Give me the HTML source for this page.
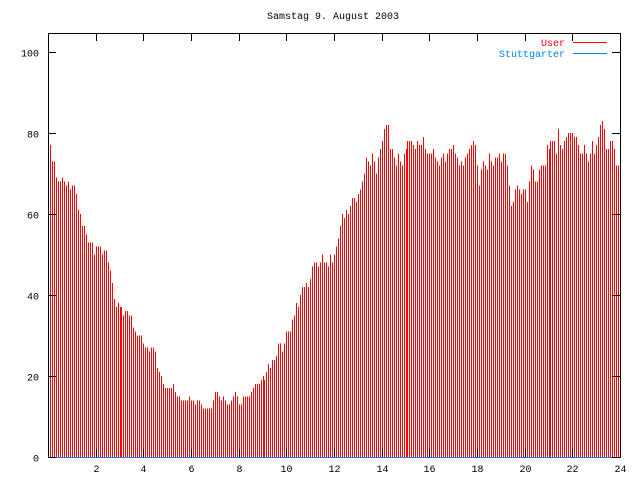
<!DOCTYPE html>
<html><head><meta charset="utf-8"><style>
html,body{margin:0;padding:0;background:#fff;}
svg{display:block;font-family:"Liberation Mono",monospace;font-size:10px;}
</style></head><body>
<svg id="chart" width="640" height="480" viewBox="0 0 640 480" shape-rendering="crispEdges">
<text x="333" y="19" text-anchor="middle" fill="#000">Samstag 9. August 2003</text>
<g id="bars"></g>
<g id="axes"></g>
<g>
<text x="565" y="46" text-anchor="end" fill="#ff0000">User</text>
<line x1="573" y1="42.5" x2="607" y2="42.5" stroke="#ff0000"/>
<text x="565" y="57" text-anchor="end" fill="#0080ff">Stuttgarter</text>
<line x1="573" y1="53.5" x2="607" y2="53.5" stroke="#0080ff"/>
</g>
</svg>
<script>
const userValues = [
77,77,73,73,69,68,68,69,68,67,68,66,67,67,65,61,60,57,57,55,
53,53,53,50,52,52,52,50,51,51,48,46,43,39,37,38,37,37,35,36,
36,35,35,32,31,30,30,30,28,27,27,26,27,27,26,22,21,20,18,17,
17,17,17,18,16,15,15,14,14,14,14,15,14,14,13,14,14,13,12,12,
12,12,12,14,16,16,15,14,15,14,13,
13,14,15,16,15,13,13,15,15,15,15,16,17,18,18,18,19,20,19,21,23,22,24,24,25,28,28,26,28,31,31,31,34,35,38,37,40,42,42,43,42,44,47,48,48,47,48,50,
48,48,47,50,48,
50,52,54,57,60,59,61,60,62,64,64,63,65,66,68,70,74,73,72,75,73,70,74,76,78,81,82,82,76,76,74,72,75,73,72,75,76,78,78,78,77,76,78,
77,77,79,76,75,75,75,76,74,73,72,74,75,73,75,76,76,77,75,74,72,73,72,74,75,76,77,78,77,72,67,71,73,72,71,75,73,72,74,74,75,73,75,75,72,67,62,63,66,67,66,65,66,66,63,
68,72,71,68,68,71,72,72,72,77,76,78,78,78,75,81,77,76,78,79,80,80,80,79,79,77,75,75,77,75,73,75,78,75,77,79,82,83,81,76,76,78,78,76,72,72
];
const pointsPerHour = 12;
const yTicks = [0,20,40,60,80,100];
const xTicks = [2,4,6,8,10,12,14,16,18,20,22,24];

const L=48,R=620,T=33,B=457;
const xMax=24,yMax=(B-T)/4.05;
const xs=h=>L+(h/xMax)*(R-L);
const ys=v=>B-(v/yMax)*(B-T);
const NS='http://www.w3.org/2000/svg';
const bars=document.getElementById('bars');
userValues.forEach((v,i)=>{
  const x=Math.round(xs(i/pointsPerHour))+0.5;
  const ln=document.createElementNS(NS,'line');
  
  
  ln.setAttribute('x1',x);ln.setAttribute('x2',x);
  ln.setAttribute('y1',B);ln.setAttribute('y2',ys(v));
  ln.setAttribute('stroke','#ff0000');
  bars.appendChild(ln);
});
const axes=document.getElementById('axes');
function add(tag,attrs,name,text){
  const e=document.createElementNS(NS,tag);
  for(const k in attrs)e.setAttribute(k,attrs[k]);
  
  
  if(text!==undefined)e.textContent=text;
  axes.appendChild(e);return e;
}
add('rect',{x:L+0.5,y:T+0.5,width:R-L,height:B-T,fill:'none',stroke:'#000'},'plot-frame');
add('line',{x1:L,y1:B+0.5,x2:R,y2:B+0.5,stroke:'#0080ff'},'stuttgarter-baseline');
yTicks.forEach(v=>{
  const y=Math.round(ys(v))+0.5;
  add('line',{x1:L,y1:y,x2:L+8,y2:y,stroke:'#000'},'y-tick');
  add('line',{x1:R-8,y1:y,x2:R,y2:y,stroke:'#000'},'y-tick-mirror');
  add('text',{x:39,y:y+4,'text-anchor':'end',fill:'#000'},'y-tick-label',String(v));
});
xTicks.forEach(h=>{
  const x=Math.round(xs(h))+0.5;
  add('line',{x1:x,y1:B,x2:x,y2:B-8,stroke:'#000'},'x-tick');
  add('line',{x1:x,y1:T,x2:x,y2:T+8,stroke:'#000'},'x-tick-mirror');
  add('text',{x:x,y:472,'text-anchor':'middle',fill:'#000'},'x-tick-label',String(h));
});
</script>
</body></html>
